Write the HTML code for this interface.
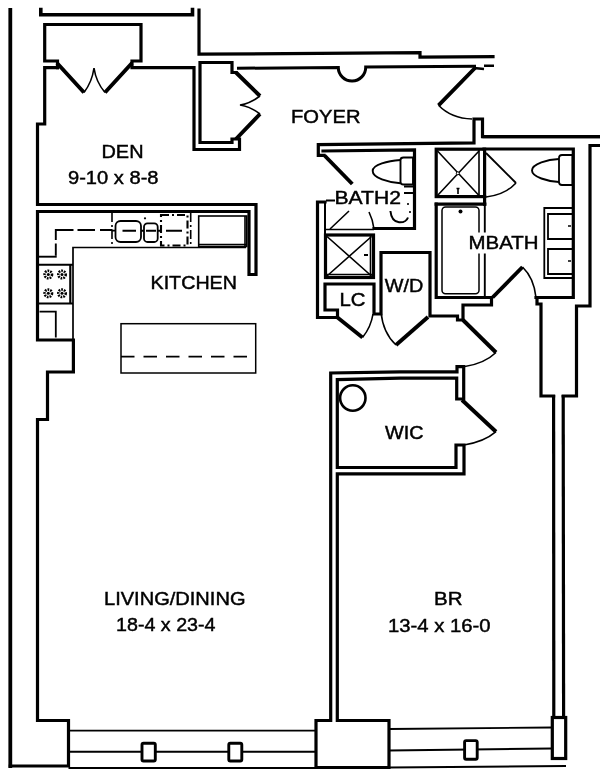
<!DOCTYPE html>
<html><head><meta charset="utf-8">
<style>
html,body{margin:0;padding:0;background:#fff;}
body{width:600px;height:773px;overflow:hidden;}
svg{display:block;}
text{font-family:"Liberation Sans",sans-serif;font-size:18.6px;fill:#000;stroke:#000;stroke-width:0.45;}
.k{fill:none;stroke:#000;stroke-width:3.2;stroke-linecap:square;stroke-linejoin:miter;}
.m{fill:none;stroke:#000;stroke-width:2;stroke-linecap:butt;stroke-linejoin:miter;}
.t{fill:none;stroke:#000;stroke-width:1.6;stroke-linecap:butt;}
.d{fill:none;stroke:#000;stroke-width:3.9;stroke-linecap:butt;}
</style></head><body>
<svg width="600" height="773" viewBox="0 0 600 773">
<defs><filter id="sf" x="0" y="0" width="600" height="773" filterUnits="userSpaceOnUse"><feGaussianBlur stdDeviation="0.45"/></filter></defs>
<rect width="600" height="773" fill="#fff"/>
<g filter="url(#sf)">

<!-- outer left wall + den + kitchen walls -->
<path class="k" d="M57.5,67.7 H44.7 V124 H37.5 V204.5 H256 V274.5 H249 V211.5 H37.5 V340 H73.4 V372 H47.5 V419.5 H37.5 V720.5 H68.5 V766 H10.3"/>
<path class="k" d="M10.3,766 V10" style="stroke-width:3.8"/>
<path class="k" d="M40.8,9.5 V14.8 H192.5 V9.5" style="stroke-width:3.6"/>
<!-- den closet -->
<path class="k" d="M57.5,67.7 V61 H44.7 V24.5 H141 V61 H132 V67.7 H194 V149.5 H239.5 V139 H232 V142.5 H200 V62.5 H232 V72.5 H236"/>
<path class="k" d="M199,10 V54.2 L420,52.7 V57.2 L493,56.7"/>
<path class="m" d="M237,68.3 L338.3,67.4 A13.7,13.8 0 0 0 365.7,67.1 L476,66.2" style="stroke-width:3"/>
<path class="m" d="M474,68 L484,69 M484,65.8 H494" style="stroke-width:2.6"/>
<!-- doors (thick leaves) -->
<path class="d" d="M57,63 L84,92.5 M132,63 L105,92.5 M236,72.5 L260,96 M236,139 L260,114 M475,68 L438.5,105.3"/>
<!-- door arcs thin -->
<path class="t" d="M84,92.5 Q92,82 94,68 Q96,82 105,92.5"/>
<path class="t" d="M260,96 Q250,103.5 240,105 Q250,106.5 260,114"/>
<path class="t" d="M438.5,105.3 Q451.3,118.5 472,119"/>

<!-- foyer bottom wall / bath top -->
<path class="k" d="M324,155.3 H318.3 V144.6 L474,142.8 V119 H482.5 V136.7 H600"/><path class="k" d="M484,136.7 H600" style="stroke-width:3.3"/>
<path class="k" d="M323,151 L414.5,149.8 V228.5 H374"/>
<path class="d" d="M324.5,155.5 L352.3,184"/>
<!-- bath2 lower left, LC -->
<path class="k" d="M325,202 H317.5 V317.5 H337.5 V310 H325 V284 H374 V314 H381 V252.5 H430 V316 H457.5 V320 H463 V305 H491.5 V297.5 H436.2 V204.2"/>
<path class="m" d="M325,202 V277 M335,200.5 H326"/>
<path class="t" d="M325,229.5 H374"/>
<rect class="k" x="325.5" y="235" width="48" height="42.5"/>
<path class="t" d="M327,236.5 L371.5,276 M371.5,236.5 L327,276" style="stroke-width:1.6"/><path class="t" d="M370.5,235 V277 M325,274.5 H373"/>
<path class="m" d="M364,255 h4"/>
<!-- bath2 door swings -->
<path class="t" d="M330,229 L349,211 M369,212 Q373,220 374,229"/>
<!-- bath2 toilet -->
<path class="m" d="M400.5,160 C388,161 372.7,164.5 372.7,171 C372.7,178 388,182.5 400.5,183.3" style="stroke-width:1.9"/>
<path class="m" d="M400.5,160 Q400.5,157.5 403.5,157.5 H413 V184.5 H403.5 Q400.5,184.5 400.5,182 Z" style="stroke-width:1.9"/>
<!-- bath2 sink -->
<path class="t" d="M404,186.5 H414 M404,193 H414 M390.4,211 Q391.5,221.5 399,222.3 Q406,222.8 408,217.5" style="stroke-width:2"/>
<path class="t" d="M408,203 v2 M410,211 v2"/>

<!-- LC door -->
<path class="d" d="M337.5,317.5 L362.5,337.5"/>
<path class="t" d="M362.5,337.5 Q371,327 373,314"/>
<!-- W/D door -->
<path class="d" d="M396,345 L428,317"/>
<path class="t" d="M381,312 Q383,333 396,345" style="stroke-width:1.6"/>

<!-- mbath shower -->
<rect class="k" x="436.2" y="149.2" width="48.4" height="47.4"/>
<path class="t" d="M437.5,151 L479,195.5 M479,151 L437.5,195.5" style="stroke-width:1.6"/><path class="t" d="M479,150 V196"/>
<circle cx="457.8" cy="173.3" r="1.5" fill="#fff" stroke="#000" stroke-width="1"/>
<path class="t" d="M458,189 v5 M456.5,188.5 h3"/>
<!-- tub -->
<path class="k" d="M436.2,204.2 H484.8"/><path class="m" d="M484.8,204 V297.5" style="stroke-width:1.9"/>
<path class="k" d="M484.6,196.6 V204.2"/>
<rect class="t" x="442" y="207" width="37" height="86.8" rx="3.5" style="stroke-width:1.5"/>
<circle cx="460.5" cy="211.5" r="2"/>
<!-- shower door -->
<path class="m" d="M486,153 L516,183" style="stroke-width:1.8"/>
<path class="t" d="M516,183 Q505,195 486,197"/>
<!-- mbath walls -->
<path class="k" d="M484,149 H573.3 V297.5 H536"/>
<path class="k" d="M537,297.5 V304 H541 V396 H553.6" /><path class="m" d="M553.6,395 L553.8,718" style="stroke-width:3.2"/>
<path class="k" d="M600,145.5 H590 V306 H576.5 V396 H563.2"/><path class="m" d="M563.2,395 L563.6,718" style="stroke-width:3.2"/>
<!-- mbath toilet -->
<path class="m" d="M559,159 C548,159.5 532,163.5 532,170.5 C532,177 548,181.5 559,182" style="stroke-width:1.9"/>
<path class="m" d="M559,158 Q559,155 562,155 H572.5 V185 H562 Q559,185 559,182 Z" style="stroke-width:1.8"/>
<!-- vanity -->
<path class="m" d="M573,208 H544.3 V278 H573" style="stroke-width:1.8"/>
<path class="m" d="M573,214 H548 V239 H573 M573,249 H548 V274 H573" style="stroke-width:1.8"/>
<path class="t" d="M568,226 h3 M568,261 h3"/>
<!-- mbath door -->
<path class="d" d="M492.5,297.5 L522.5,267"/>
<path class="t" d="M522.5,267 Q534,278 536,297.5"/>
<!-- hall door -->
<path class="d" d="M463,320 L496,352.5"/>
<path class="t" d="M496,352.5 Q484,364 463.7,366.7"/>
<!-- WIC / BR walls -->
<path class="k" d="M457,371.8 L400,371.8 L330.7,373 V720.5 H316 V767.5 H389 V720.5 H337.3 V473.8 H464 V445 H456 V467.5 H337.3 V379.6 L400,378.2 L456.7,378 V399 H463.7 V366.7 H457 Z"/>
<path class="d" d="M462,400 L496,431.7"/>
<path class="t" d="M496,431.7 Q484,442 464,445"/>
<circle class="m" cx="352.8" cy="398" r="12.7" style="stroke-width:2.6"/>

<!-- bottom windows -->
<path class="t" d="M68.5,730.6 H316 M68.5,751.7 H316 M68.5,768 H316" style="stroke-width:1.9"/>
<path class="t" d="M389,729 L552,727.5 M389,750.5 L552,748.5 M389,767.5 L566,766" style="stroke-width:1.9"/>
<rect class="m" x="142" y="743.2" width="13.3" height="17.8" rx="1.5" style="fill:#fff;stroke-width:2.9"/>
<rect class="m" x="228.8" y="743.2" width="13" height="17.8" rx="1.5" style="fill:#fff;stroke-width:2.9"/>
<rect class="m" x="464.6" y="740.6" width="12.6" height="18.6" rx="1.5" style="fill:#fff;stroke-width:2.9"/>
<rect class="k" x="552.3" y="717.5" width="13.4" height="41" style="fill:#fff"/>

<!-- kitchen -->
<path class="t" d="M73,340 V247.5 H246" style="stroke-width:1.7"/>
<path class="m" d="M37.5,264.7 H73 M37.5,303.5 H73" style="stroke-width:1.9"/>
<path class="m" d="M70.3,264 V304" style="stroke-width:2.2"/>
<g fill="none" stroke="#000" stroke-width="2.6" stroke-dasharray="1.7 1.0">
<circle cx="48.3" cy="274.5" r="3.7"/><circle cx="62" cy="274.5" r="3.7"/><circle cx="48.3" cy="293.3" r="3.7"/><circle cx="62" cy="293.3" r="3.7"/>
</g>
<g fill="#000"><circle cx="48.3" cy="274.5" r="1.5"/><circle cx="62" cy="274.5" r="1.5"/><circle cx="48.3" cy="293.3" r="1.5"/><circle cx="62" cy="293.3" r="1.5"/></g>
<path class="m" d="M39.5,311.7 H55.8 V337.5" style="stroke-width:1.8"/>
<path class="m" d="M55.8,255.8 V243.5 M55.8,240 V230 H73.5 M77.5,230 H95 M100,230 H112.5" style="stroke-width:1.9"/>
<path class="m" d="M56.7,256.7 H38" style="stroke-width:1.9"/>
<path class="t" d="M112,213 V247" stroke-dasharray="9 3 2 3"/>
<rect class="m" x="115.5" y="221" width="25.5" height="21" rx="5" style="stroke-width:1.8"/>
<rect class="m" x="144" y="223.3" width="13.7" height="18.7" rx="3.5" style="stroke-width:1.8"/>
<path class="t" d="M112,230.6 H115.5 M122.5,230.8 H136 M141,230.8 H144 M146,230.8 H156 M157.5,230.8 H161 M166,230.8 H182" style="stroke-width:1.9"/>
<circle cx="145" cy="218.3" r="1.1"/>
<rect class="t" x="161" y="215" width="26.5" height="30.5" stroke-dasharray="8 3 2 3" style="stroke-width:2.1"/>
<path class="t" d="M190.7,213 V247" stroke-dasharray="9 3 2 3"/>
<rect class="m" x="198.7" y="216" width="48" height="30.5" style="stroke-width:1.6"/>
<path class="t" d="M245,216 V246 M199,244.5 H246"/>
<rect class="t" x="121" y="323.7" width="134.7" height="49.3" style="stroke-width:1.5"/>
<path class="m" d="M121,356.6 H256" stroke-dasharray="13.5 9" style="stroke-width:1.9"/>

<!-- labels -->
<text x="101.5" y="157.5" textLength="42" lengthAdjust="spacingAndGlyphs">DEN</text>
<text x="68" y="184" textLength="90.5" lengthAdjust="spacingAndGlyphs">9-10 x 8-8</text>
<text x="291" y="122.5" textLength="69.5" lengthAdjust="spacingAndGlyphs">FOYER</text>
<text x="334.5" y="204" textLength="66.5" lengthAdjust="spacingAndGlyphs">BATH2</text>
<rect x="466" y="232.5" width="74" height="21" fill="#fff"/>
<text x="468.5" y="249.3" textLength="70" lengthAdjust="spacingAndGlyphs">MBATH</text>
<text x="150.5" y="289" textLength="86.5" lengthAdjust="spacingAndGlyphs">KITCHEN</text>
<text x="339.5" y="306" textLength="26" lengthAdjust="spacingAndGlyphs">LC</text>
<text x="384.8" y="292" textLength="38.5" lengthAdjust="spacingAndGlyphs">W/D</text>
<text x="385" y="439" textLength="38.5" lengthAdjust="spacingAndGlyphs">WIC</text>
<text x="104" y="604.5" textLength="141.5" lengthAdjust="spacingAndGlyphs">LIVING/DINING</text>
<text x="116" y="631" textLength="99.5" lengthAdjust="spacingAndGlyphs">18-4 x 23-4</text>
<text x="434" y="605.4" textLength="28.5" lengthAdjust="spacingAndGlyphs">BR</text>
<text x="388" y="632.4" textLength="102.5" lengthAdjust="spacingAndGlyphs">13-4 x 16-0</text>
</g>
</svg>
</body></html>
